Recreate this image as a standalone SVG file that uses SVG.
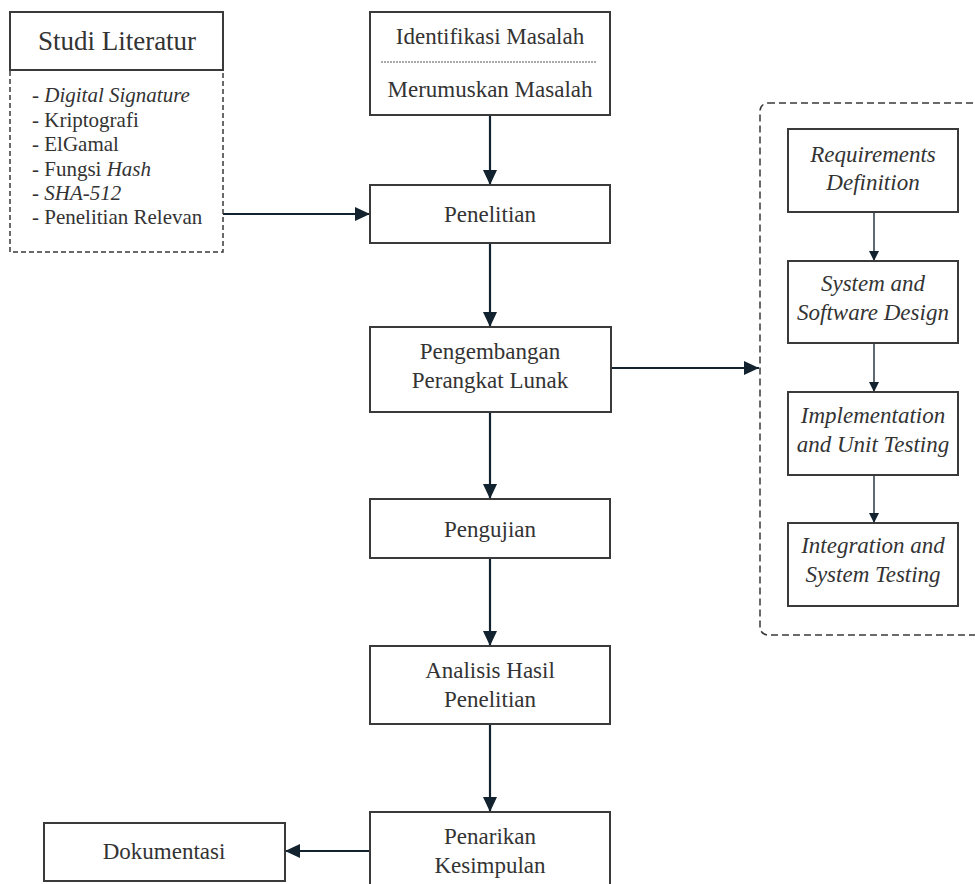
<svg xmlns="http://www.w3.org/2000/svg" width="975" height="884" viewBox="0 0 975 884">
<defs>
<style>
.box{fill:#fff;stroke:#3a3a3a;stroke-width:2}
.dash{fill:none;stroke:#3a3a3a;stroke-width:1.5;stroke-dasharray:5 3}
text{font-family:'Liberation Serif','DejaVu Serif',serif;fill:#333}
.t{font-size:23px;text-anchor:middle}
.ti{font-size:23px;text-anchor:middle;font-style:italic}
.l{font-size:21px}
.c{fill:none;stroke:#12232f;stroke-width:2.2}
.cs{fill:none;stroke:#2a3a46;stroke-width:1.5}
</style>
<marker id="ah" viewBox="0 0 15 14" refX="15" refY="7" markerWidth="15" markerHeight="14" markerUnits="userSpaceOnUse" orient="auto">
<path d="M0,0 L15,7 L0,14 Z" fill="#12232f"/>
</marker>
<marker id="as" viewBox="0 0 10 10" refX="10" refY="5" markerWidth="10" markerHeight="10" markerUnits="userSpaceOnUse" orient="auto">
<path d="M0,0 L10,5 L0,10 Z" fill="#12232f"/>
</marker>
</defs>
<rect width="975" height="884" fill="#fff"/>

<g id="connectors">
<path class="c" d="M490,115 V185" marker-end="url(#ah)"/>
<path class="c" d="M223,214 H370" marker-end="url(#ah)"/>
<path class="c" d="M490,243 V327" marker-end="url(#ah)"/>
<path class="c" d="M611,368 H759" marker-end="url(#ah)"/>
<path class="c" d="M490,412 V499" marker-end="url(#ah)"/>
<path class="c" d="M490,558 V646" marker-end="url(#ah)"/>
<path class="c" d="M490,724 V812" marker-end="url(#ah)"/>
<path class="c" d="M370,851 H285" marker-end="url(#ah)"/>
<path class="cs" d="M874,212 V261" marker-end="url(#as)"/>
<path class="cs" d="M874,343 V392" marker-end="url(#as)"/>
<path class="cs" d="M874,475 V523" marker-end="url(#as)"/>
</g>

<g id="studi-literatur">
<rect class="dash" x="10" y="70" width="213" height="182"/>
<rect class="box" x="10" y="12" width="213" height="58"/>
<text class="t" x="117" y="50" font-family="Liberation Serif, serif" style="font-size:27px">Studi Literatur</text>
<text class="l" x="32" y="102">- <tspan font-style="italic">Digital Signature</tspan></text>
<text class="l" x="32" y="127">- Kriptografi</text>
<text class="l" x="32" y="151">- ElGamal</text>
<text class="l" x="32" y="176">- Fungsi <tspan font-style="italic">Hash</tspan></text>
<text class="l" x="32" y="200">- <tspan font-style="italic">SHA-512</tspan></text>
<text class="l" x="32" y="224">- Penelitian Relevan</text>
</g>

<g id="identifikasi">
<rect class="box" x="370" y="12" width="240" height="103"/>
<text class="t" x="490" y="44">Identifikasi Masalah</text>
<line x1="381" y1="62" x2="597" y2="62" stroke="#555" stroke-width="1" stroke-dasharray="2 1"/>
<text class="t" x="490" y="97">Merumuskan Masalah</text>
</g>

<g id="penelitian">
<rect class="box" x="370" y="185" width="240" height="58"/>
<text class="t" x="490" y="222">Penelitian</text>
</g>

<g id="pengembangan">
<rect class="box" x="370" y="327" width="241" height="85"/>
<text class="t" x="490" y="359">Pengembangan</text>
<text class="t" x="490" y="388">Perangkat Lunak</text>
</g>

<g id="pengujian">
<rect class="box" x="370" y="499" width="240" height="59"/>
<text class="t" x="490" y="537">Pengujian</text>
</g>

<g id="analisis">
<rect class="box" x="370" y="646" width="240" height="78"/>
<text class="t" x="490" y="678">Analisis Hasil</text>
<text class="t" x="490" y="707">Penelitian</text>
</g>

<g id="penarikan">
<rect class="box" x="370" y="812" width="240" height="90"/>
<text class="t" x="490" y="844">Penarikan</text>
<text class="t" x="490" y="873">Kesimpulan</text>
</g>

<g id="dokumentasi">
<rect class="box" x="44" y="823" width="241" height="58"/>
<text class="t" x="164" y="859">Dokumentasi</text>
</g>

<g id="waterfall">
<rect class="dash" x="760" y="103" width="240" height="532" rx="8" style="stroke-dasharray:7 4"/>
</g>

<g id="requirements">
<rect class="box" x="788" y="129" width="170" height="83"/>
<text class="ti" x="873" y="162">Requirements</text>
<text class="ti" x="873" y="190">Definition</text>
</g>

<g id="system-design">
<rect class="box" x="788" y="261" width="170" height="82"/>
<text class="ti" x="873" y="291">System and</text>
<text class="ti" x="873" y="320">Software Design</text>
</g>

<g id="implementation">
<rect class="box" x="788" y="392" width="170" height="83"/>
<text class="ti" x="873" y="423">Implementation</text>
<text class="ti" x="873" y="452">and Unit Testing</text>
</g>

<g id="integration">
<rect class="box" x="788" y="523" width="170" height="83"/>
<text class="ti" x="873" y="553">Integration and</text>
<text class="ti" x="873" y="582">System Testing</text>
</g>
</svg>
